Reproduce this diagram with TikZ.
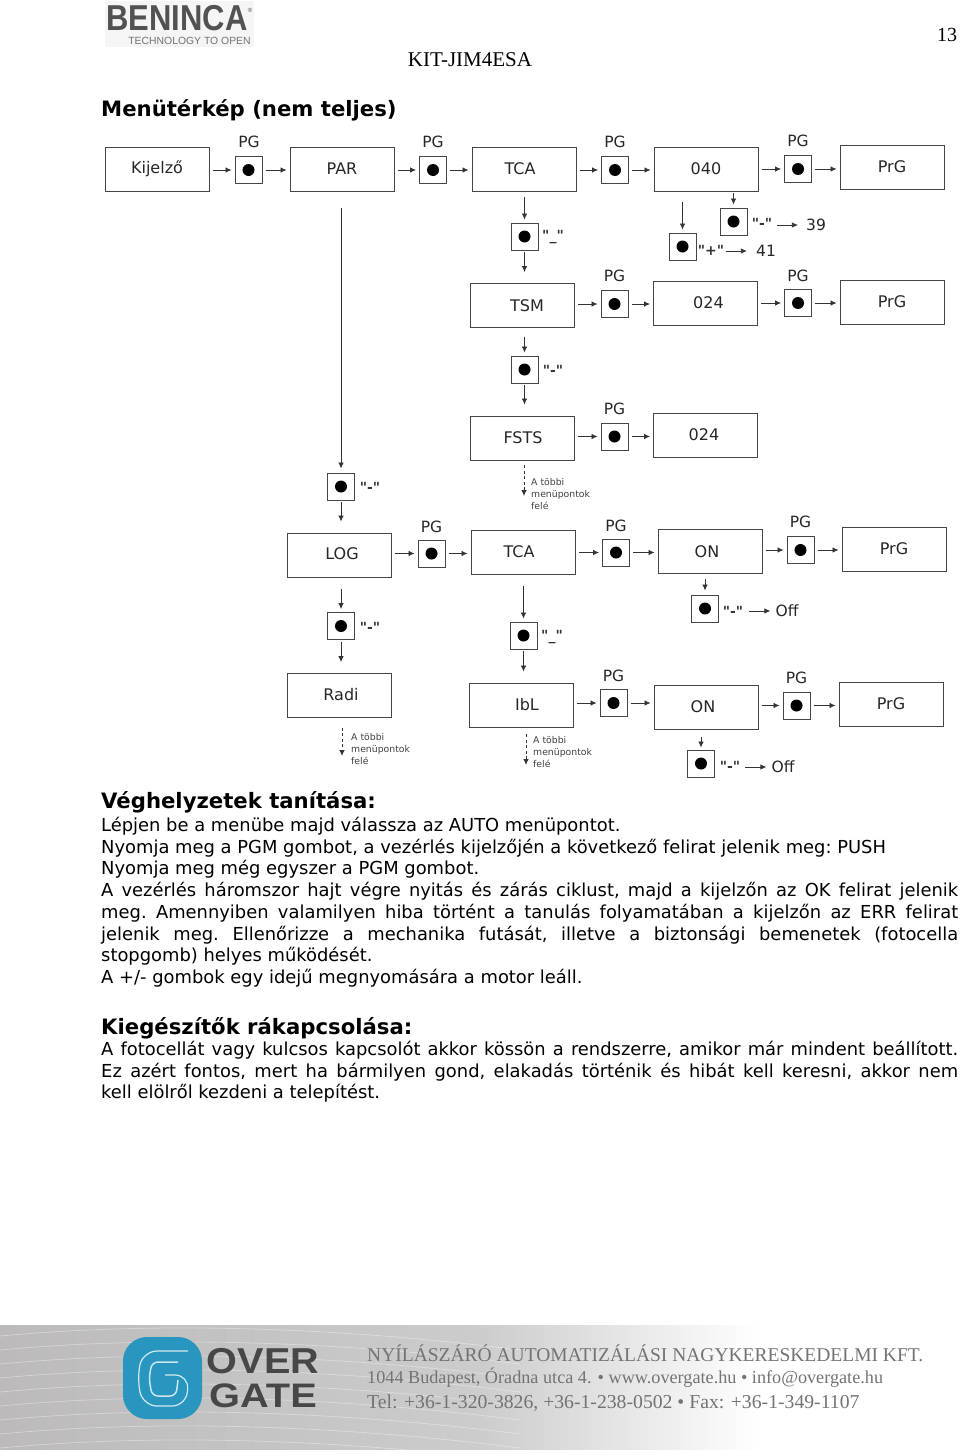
\documentclass[tikz,border=0pt]{standalone}
\usepackage{fontspec}
\usepackage{graphicx}
\usetikzlibrary{arrows.meta}
\setmainfont{DejaVu Sans}
\newfontfamily\keyfont[Ligatures=NoCommon,BoldFont={DejaVu Sans Bold}]{DejaVu Sans}
\newfontfamily\footfont{Liberation Serif}
\newfontfamily\logofont{Liberation Sans}
\definecolor{boxline}{RGB}{70,70,70}
\definecolor{footgray}{RGB}{115,115,115}
\definecolor{swirlblue}{RGB}{40,150,190}
\definecolor{bandgray}{RGB}{188,186,186}
\newcommand{\boxtext}[3]{\hspace*{#1pt}\raisebox{#2pt}{#3}}
\tikzset{
  menubox/.style={draw=boxline,line width=0.9pt,minimum width=104pt,minimum height=44pt,inner sep=0pt,font=\fontsize{16}{18}\selectfont,text=black!85},
  btn/.style={draw=boxline,line width=0.9pt,minimum size=27pt,inner sep=0pt,path picture={\fill[black] (path picture bounding box.center) circle (6pt);}},
  lab/.style={inner sep=1pt,font=\fontsize{15.5}{17}\selectfont,text=black!85},
  keylab/.style={inner sep=1pt,font=\keyfont\fontsize{14}{16}\selectfont\bfseries,text=black!80},
  note/.style={inner sep=0pt,anchor=west,align=left,font=\fontsize{9.3}{12}\selectfont,text=black!75},
  link/.style={-{Latex[length=6pt,width=5.5pt]},line width=0.8pt,draw=black!80,shorten <=3.5pt,shorten >=3pt},
  dashlink/.style={link,dash pattern=on 3pt off 2.5pt},
  para/.style={inner sep=0pt,anchor=north west,text width=857pt,align=justify,font=\frenchspacing\fontsize{17.9}{21.7}\selectfont},
  head/.style={inner sep=0pt,anchor=west,font=\fontsize{21.2}{24}\selectfont\bfseries},
  footline/.style={inner sep=0pt,anchor=west,text=footgray,font=\footfont}
}
\begin{document}
\begin{tikzpicture}[x=1pt,y=-1pt]
  \useasboundingbox (0,0) rectangle (960,1456);
  % page header
  \fill[black!4] (105,1) rectangle (254,47);
  \node[inner sep=0pt,text=black!68] (brand) at (177,18.5) {\logofont\bfseries\fontsize{36}{36}\selectfont\scalebox{.86}[1]{BENINCA}};
  \node[inner sep=0pt,text=black!68] (regmark) at (250,10) {\logofont\fontsize{6}{7}\selectfont ®};
  \node[inner sep=0pt,text=black!55] (slogan) at (189.5,41) {\logofont\fontsize{10.4}{11}\selectfont TECHNOLOGY TO OPEN};
  \node[inner sep=0pt] (pageno) at (947,35) {\footfont\fontsize{20}{22}\selectfont 13};
  \node[inner sep=0pt] (model) at (470,60) {\footfont\fontsize{21}{23}\selectfont KIT-JIM4ESA};
  \node[head] (title) at (101,110.5) {Menütérkép (nem teljes)};
  % first row
  \node[menubox] (kij) at (157,169) {\boxtext{0}{1}{Kijelző}};
  \node[btn] (b1) at (248.5,170) {};
  \node[lab] (pg1) at (249,142) {PG};
  \node[menubox] (par) at (342,169) {PAR};
  \node[btn] (b2) at (433,170) {};
  \node[lab] (pg2) at (433,142) {PG};
  \node[menubox] (tca) at (524,169) {\boxtext{-8}{0}{TCA}};
  \node[btn] (b3) at (615,170) {};
  \node[lab] (pg3) at (615,142) {PG};
  \node[menubox] (val) at (706,169) {\boxtext{0}{-3}{040}};
  \node[btn] (b4) at (798,169) {};
  \node[lab] (pg4) at (798,141) {PG};
  \node[menubox] (prg1) at (892,167) {PrG};
  \draw[link] (kij.east |- b1) -- (b1);
  \draw[link] (b1) -- (par.west |- b1);
  \draw[link] (par.east |- b2) -- (b2);
  \draw[link] (b2) -- (tca.west |- b2);
  \draw[link] (tca.east |- b3) -- (b3);
  \draw[link] (b3) -- (val.west |- b3);
  \draw[link] (val.east |- b4) -- (b4);
  \draw[link] (b4) -- (prg1.west |- b4);
  % 39 and 41 branch
  \node[btn] (bm39) at (733.5,221.5) {};
  \node[keylab] (km39) at (762,223) {"-"};
  \node[lab] (v39) at (816,225) {39};
  \node[btn] (bp41) at (682.5,246.5) {};
  \node[keylab] (kp41) at (711,250) {"+"};
  \node[lab] (v41) at (766,251) {41};
  \coordinate (s39) at (733.5,191);
  \coordinate (s41) at (682.5,191);
  \draw[link,shorten <=2pt] (s39) -- (bm39);
  \draw[link,shorten <=11pt] (s41) -- (bp41);
  \draw[link,shorten <=4pt,shorten >=7pt] (km39.east |- v39) -- (v39);
  \draw[link,shorten <=1pt,shorten >=8pt] (kp41.east |- v41) -- (v41);
  % TSM row
  \node[btn] (b5) at (524.5,236.5) {};
  \node[keylab] (k5) at (553,237) {"\_"};
  \node[menubox] (tsm) at (522,305.5) {\boxtext{10}{-2}{TSM}};
  \node[btn] (b6) at (614.5,304) {};
  \node[lab] (pg6) at (614.5,276) {PG};
  \node[menubox] (v24a) at (705.5,303) {\boxtext{6}{1}{024}};
  \node[btn] (b7) at (798,303) {};
  \node[lab] (pg7) at (798,276) {PG};
  \node[menubox] (prg2) at (892,302) {PrG};
  \draw[link,shorten <=6pt] (tca.south -| b5) -- (b5);
  \draw[link,shorten <=2pt,shorten >=11pt] (b5) -- (tsm.north -| b5);
  \draw[link] (tsm.east |- b6) -- (b6);
  \draw[link] (b6) -- (v24a.west |- b6);
  \draw[link] (v24a.east |- b7) -- (b7);
  \draw[link] (b7) -- (prg2.west |- b7);
  % FSTS row
  \node[btn] (b8) at (524.5,369.5) {};
  \node[keylab] (k8) at (553,370) {"-"};
  \node[menubox] (fsts) at (522,438) {\boxtext{2}{-2}{FSTS}};
  \node[btn] (b9) at (614.5,436.5) {};
  \node[lab] (pg9) at (614.5,409) {PG};
  \node[menubox] (v24b) at (705.5,435) {\boxtext{-3}{-2}{024}};
  \draw[link,shorten <=9pt] (tsm.south -| b8) -- (b8);
  \draw[link,shorten <=2pt,shorten >=11pt] (b8) -- (fsts.north -| b8);
  \draw[link] (fsts.east |- b9) -- (b9);
  \draw[link] (b9) -- (v24b.west |- b9);
  \coordinate (e1) at (524,496);
  \draw[dashlink,shorten <=5pt,shorten >=0pt] (fsts.south -| e1) -- (e1);
  \node[note] (n1) at (531,494) {A többi\\menüpontok\\felé};
  % LOG row
  \node[btn] (b10) at (341,486.5) {};
  \node[keylab] (k10) at (370,487) {"-"};
  \node[menubox] (log) at (339,555) {\boxtext{6}{2}{LOG}};
  \node[btn] (b11) at (431.5,553.5) {};
  \node[lab] (pg11) at (431.5,527) {PG};
  \node[menubox] (tca2) at (523,552) {\boxtext{-8}{0}{TCA}};
  \node[btn] (b12) at (616,552.5) {};
  \node[lab] (pg12) at (616,526) {PG};
  \node[menubox] (on1) at (710,551.5) {\boxtext{-6}{0}{ON}};
  \node[btn] (b13) at (800.5,550) {};
  \node[lab] (pg13) at (800.5,522) {PG};
  \node[menubox] (prg3) at (894,549) {PrG};
  \draw[link,shorten <=17pt,shorten >=4pt] (par.south -| b10) -- (b10);
  \draw[link,shorten <=2pt,shorten >=11pt] (b10) -- (log.north -| b10);
  \draw[link] (log.east |- b11) -- (b11);
  \draw[link] (b11) -- (tca2.west |- b11);
  \draw[link] (tca2.east |- b12) -- (b12);
  \draw[link] (b12) -- (on1.west |- b12);
  \draw[link] (on1.east |- b13) -- (b13);
  \draw[link] (b13) -- (prg3.west |- b13);
  % Off under the first ON
  \node[btn] (b14) at (705,608.5) {};
  \node[keylab] (k14) at (733,611) {"-"};
  \node[lab] (off1) at (787,611) {Off};
  \draw[link,shorten <=5pt,shorten >=4pt] (on1.south -| b14) -- (b14);
  \draw[link,shorten <=5pt,shorten >=4pt] (k14.east |- off1) -- (off1);
  % Radi column
  \node[btn] (b15) at (341,626) {};
  \node[keylab] (k15) at (370,627) {"-"};
  \node[menubox] (radi) at (339,695.5) {\boxtext{4}{3}{Radi}};
  \draw[link,shorten <=12pt] (log.south -| b15) -- (b15);
  \draw[link,shorten <=2pt,shorten >=11pt] (b15) -- (radi.north -| b15);
  \coordinate (e2) at (342,756);
  \draw[dashlink,shorten <=10pt,shorten >=0pt] (radi.south -| e2) -- (e2);
  \node[note] (n2) at (351,749) {A többi\\menüpontok\\felé};
  % IbL row
  \node[btn] (b16) at (523.5,635.5) {};
  \node[keylab] (k16) at (552,637) {"\_"};
  \node[menubox] (ibl) at (521,705) {\boxtext{12}{1}{IbL}};
  \node[btn] (b17) at (613.5,703) {};
  \node[lab] (pg17) at (613.5,676) {PG};
  \node[menubox] (on2) at (706,707) {\boxtext{-6}{0}{ON}};
  \node[btn] (b18) at (796.5,705.5) {};
  \node[lab] (pg18) at (796.5,678) {PG};
  \node[menubox] (prg4) at (891,704) {PrG};
  \draw[link,shorten <=12pt] (tca2.south -| b16) -- (b16);
  \draw[link,shorten <=2pt,shorten >=11pt] (b16) -- (ibl.north -| b16);
  \draw[link] (ibl.east |- b17) -- (b17);
  \draw[link] (b17) -- (on2.west |- b17);
  \draw[link] (on2.east |- b18) -- (b18);
  \draw[link] (b18) -- (prg4.west |- b18);
  \coordinate (e3) at (526,765);
  \draw[dashlink,shorten <=7pt,shorten >=0pt] (ibl.south -| e3) -- (e3);
  \node[note] (n3) at (533,752) {A többi\\menüpontok\\felé};
  % Off under the second ON
  \node[btn] (b19) at (701,763.5) {};
  \node[keylab] (k19) at (730,766) {"-"};
  \node[lab] (off2) at (783,767) {Off};
  \draw[link,shorten <=8pt,shorten >=2pt] (on2.south -| b19) -- (b19);
  \draw[link,shorten <=4pt,shorten >=4pt] (k19.east |- off2) -- (off2);
  % body text
  \node[head] (h1) at (101,802) {Véghelyzetek tanítása:};
  \node[para] (t1) at (101,817) {Lépjen be a menübe majd válassza az AUTO menüpontot.\\
    Nyomja meg a PGM gombot, a vezérlés kijelzőjén a következő felirat jelenik meg: PUSH\\
    Nyomja meg még egyszer a PGM gombot.\\
    A vezérlés háromszor hajt végre nyitás és zárás ciklust, majd a kijelzőn az OK felirat jelenik\linebreak
    meg. Amennyiben valamilyen hiba történt a tanulás folyamatában a kijelzőn az ERR felirat\linebreak
    jelenik meg. Ellenőrizze a mechanika futását, illetve a biztonsági bemenetek (fotocella\linebreak
    stopgomb) helyes működését.\\
    A +/- gombok egy idejű megnyomására a motor leáll.};
  \node[head] (h2) at (101,1028) {Kiegészítők rákapcsolása:};
  \node[para] (t2) at (101,1041) {A fotocellát vagy kulcsos kapcsolót akkor kössön a rendszerre, amikor már mindent beállított.\linebreak
    Ez azért fontos, mert ha bármilyen gond, elakadás történik és hibát kell keresni, akkor nem\linebreak
    kell elölről kezdeni a telepítést.};
  % footer band
  \shade[left color=bandgray,right color=black!20] (0,1325) rectangle (480,1449);
  \shade[left color=black!20,right color=white] (480,1325) rectangle (760,1449);
  \foreach \dy in {0,14,...,112} {
    \draw[white,opacity=.35,line width=0.8pt] (0,1336+\dy) .. controls (150,1322+\dy) and (330,1326+\dy) .. (520,1350+\dy);
  }
  % logo swirl
  \fill[swirlblue,rounded corners=24pt] (123,1337) rectangle (202,1419);
  \draw[white!80!swirlblue,line width=1.2pt,rounded corners=14pt] (188,1351) -- (143,1351) -- (137,1378) -- (143,1406) -- (186,1406) -- (189,1375) -- (165,1375);
  \draw[white!75!swirlblue,line width=1.5pt,rounded corners=6pt] (178,1362) -- (152,1362) -- (149,1378) -- (152,1396) -- (176,1396) -- (178,1380);
  \node[inner sep=0pt,text=black!72] (over) at (263,1361) {\logofont\bfseries\fontsize{36}{36}\selectfont\scalebox{1.1}[1]{OVER}};
  \node[inner sep=0pt,text=black!72] (gate) at (263,1396) {\logofont\bfseries\fontsize{34}{34}\selectfont\scalebox{1.17}[1]{GATE}};
  \node[footline] (f1) at (367,1353) {\fontsize{19.5}{21}\selectfont NYÍLÁSZÁRÓ AUTOMATIZÁLÁSI NAGYKERESKEDELMI KFT.};
  \node[footline] (f2) at (367,1378) {\fontsize{18.2}{20}\selectfont 1044 Budapest, Óradna utca 4. • www.overgate.hu • info@overgate.hu};
  \node[footline] (f3) at (367,1403) {\fontsize{19.7}{21}\selectfont Tel: +36-1-320-3826, +36-1-238-0502 • Fax: +36-1-349-1107};
\end{tikzpicture}
\end{document}
